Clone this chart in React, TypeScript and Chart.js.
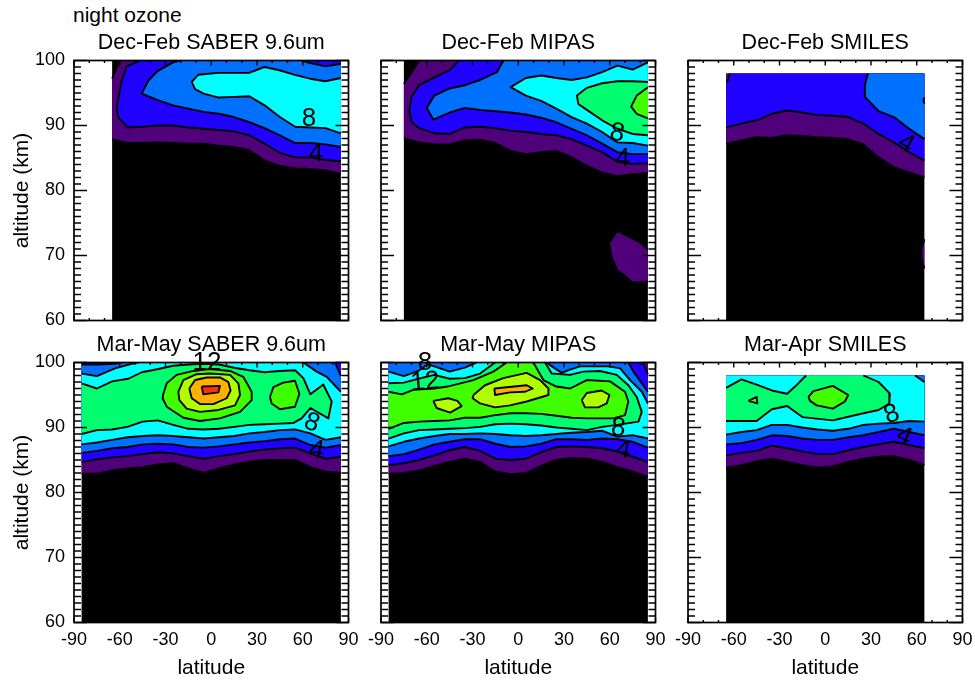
import React, { useEffect, useRef } from "react";
import { Chart, registerables } from "chart.js";

Chart.register(...registerables);

// fill colour for the region above each contour level (ppmv)
const levelColors: Record<number, string> = {
  0: "#000000", 2: "#50007a", 4: "#2000ff", 6: "#0070ff", 8: "#00ffff",
  10: "#00ff70", 12: "#40ff00", 14: "#b0ff00", 16: "#ffb000", 18: "#ff3000",
};

const xTickValues = [-90, -60, -30, 0, 30, 60, 90];
const yTickValues = [60, 70, 80, 90, 100];

// ---- Dec-Feb SABER
const djfSaber0 = [[-65, 60], [85, 60], [85, 100], [-65, 100]];
const djfSaber2 = [[-65, 87.9], [-55, 87.3], [-45, 87.3], [-35, 87.4], [-25, 87.3], [-15, 87.2], [-5, 87.2], [5, 86.9], [15, 86.7], [25, 86.2], [35, 84.6], [45, 83.8], [55, 83.4], [65, 83.3], [75, 83.1], [85, 82.6], [85, 100], [-60, 100], [-65, 97.2]];
const djfSaber4 = [[-46.7, 100], [-55.5, 99.1], [-58.7, 96.9], [-62, 92.8], [-61, 91.3], [-55, 89.7], [-45, 89.8], [-35, 90], [-25, 90], [-15, 89.7], [-5, 89.5], [5, 89.3], [15, 89.1], [25, 88.5], [35, 87.2], [45, 85.8], [55, 85.1], [65, 85.1], [75, 84.7], [85, 84.5], [85, 100]];
const djfSaber6 = [[-20.5, 100], [-25, 99.7], [-35, 98.4], [-41.2, 96.9], [-45.6, 94.9], [-35, 93.9], [-25, 93.1], [-15, 92.6], [-5, 92.1], [5, 91.8], [15, 91.3], [25, 90.5], [35, 89.6], [45, 88.5], [55, 87.3], [65, 87.3], [75, 87.1], [85, 86.7], [85, 99.5], [75, 99.1], [65, 99.6], [59.3, 100]];
const djfSaber8 = [[-8.5, 97.8], [4.7, 98.1], [14.7, 98.1], [24.8, 98.1], [34.8, 99], [44.7, 98.5], [54.7, 97.8], [64.8, 97.2], [74.8, 96.8], [85, 97.3], [85, 88.8], [75, 89.6], [65, 89.7], [55, 89.8], [45, 91.3], [35, 93.1], [25, 94.5], [15, 94.4], [5, 94.3], [-5, 94.9], [-10.6, 95.6], [-12.8, 96.7]];

// ---- Dec-Feb MIPAS
const djfMipas0 = [[-75, 60], [85, 60], [85, 100], [-75, 100]];
const djfMipas2 = [[-75, 88], [-65, 87.4], [-55, 87.1], [-45, 87.1], [-35, 87.7], [-25, 87.8], [-15, 87.3], [-5, 86.1], [5, 85.6], [15, 85.9], [25, 86.1], [35, 85.1], [45, 83.8], [55, 82.8], [65, 82.2], [75, 82.5], [85, 82.7], [85, 100], [-64.8, 100], [-75, 96.4]];
const djfMipas2b = [[65, 73.8], [59.5, 71.9], [61.3, 69.7], [65, 67.7], [70, 66.9], [75, 65.8], [85, 66], [85, 70.9], [80, 72], [75, 72.6]];
const djfMipas4 = [[-39, 100], [-45, 98.5], [-55, 97.4], [-65, 96.2], [-70, 94.4], [-71.4, 92.3], [-70, 90.5], [-65, 89.6], [-55, 88.8], [-45, 88.7], [-35, 89.7], [-25, 89.8], [-15, 89.6], [-5, 89.2], [5, 89], [15, 88.7], [25, 88.5], [35, 87.9], [45, 86.9], [55, 85.9], [65, 84.4], [75, 84.1], [85, 84.2], [85, 100]];
const djfMipas6 = [[-9.8, 100], [-14, 98.2], [-25, 97], [-35, 96.2], [-45, 95.7], [-55, 94.6], [-60, 92.7], [-55.7, 90.9], [-45, 92], [-35, 92.7], [-25, 92.4], [-15, 92.2], [-5, 92], [5, 91.7], [15, 91.2], [25, 90.5], [35, 89.5], [45, 88.5], [55, 87.2], [65, 85.9], [75, 85.6], [85, 85.6], [85, 100]];
const djfMipas8 = [[85, 99.7], [75, 98.6], [65, 99.2], [55, 98.2], [45, 97.4], [35, 97], [25, 97.3], [15, 97.7], [5, 97.3], [-5, 95.9], [5, 94.6], [15, 93.8], [25, 92.6], [35, 91.3], [45, 90.3], [55, 89], [65, 87.4], [75, 87.3], [85, 86.9]];
const djfMipas10 = [[85, 96.7], [75, 96.8], [65, 96.8], [55, 96.5], [45, 95.8], [38.5, 94.6], [39.4, 93.3], [45, 92.4], [55, 90.8], [65, 89.5], [75, 88.7], [85, 88.5]];
const djfMipas12 = [[85, 95.9], [77.7, 94.6], [74, 92.9], [77.7, 91.8], [85, 91.1]];

// ---- Dec-Feb SMILES
const djfSmiles0 = [[-65, 60], [65, 60], [65, 98], [-65, 98]];
const djfSmiles2 = [[-65, 87.2], [-55, 87.7], [-45, 88.2], [-35, 88.1], [-25, 88.5], [-15, 88.4], [-5, 88.2], [5, 88.1], [15, 87.9], [25, 87.1], [35, 85.1], [45, 83.6], [55, 82.8], [65, 82], [65, 98], [-65, 98]];
const djfSmiles2b = [[65, 72.5], [63, 71], [63, 69.5], [65, 68]];
const djfSmiles4 = [[-65, 89.7], [-55, 90.3], [-45, 90.8], [-35, 91.8], [-25, 92.3], [-15, 92], [-5, 91.6], [5, 91.5], [15, 91.3], [25, 90.3], [35, 88.7], [45, 87.4], [55, 85.9], [65, 84.6], [65, 98], [-62.5, 98], [-64, 96.8], [-65, 96.7]];
const djfSmiles6 = [[28, 98], [26, 96.2], [26, 94.4], [35, 92.2], [45, 91.3], [55, 89.5], [65, 87.9], [65, 98]];
const djfSmiles8 = [[65, 94.3], [64.4, 93.9], [65, 93.4]];

// ---- Mar-May SABER
const mamSaber0 = [[-85, 60], [85, 60], [85, 100], [-85, 100]];
const mamSaber2 = [[-85, 82.9], [-75, 82.9], [-65, 83.4], [-55, 83.7], [-45, 83.9], [-35, 84.3], [-25, 84.5], [-15, 83.7], [-5, 83], [5, 83.7], [15, 84.3], [25, 84.7], [35, 85], [45, 85], [55, 85], [65, 83.9], [75, 83.2], [85, 83], [85, 100], [-85, 100]];
const mamSaber4 = [[-85, 84.7], [-75, 85.1], [-65, 85.4], [-55, 85.6], [-45, 85.9], [-35, 86.2], [-25, 86], [-15, 85.6], [-5, 85.2], [5, 85.6], [15, 85.9], [25, 86.3], [35, 86.6], [45, 86.8], [55, 86.9], [65, 86], [75, 85.2], [85, 85.5], [85, 100], [-85, 100]];
const mamSaber6 = [[-85, 86.1], [-75, 86.4], [-65, 86.8], [-55, 87], [-45, 87.4], [-35, 87.5], [-25, 87.4], [-15, 87], [-5, 86.9], [5, 87.1], [15, 87.4], [25, 87.7], [35, 87.9], [45, 88.2], [55, 88.3], [65, 87.3], [75, 86.9], [85, 87.3], [85, 97.9], [81.2, 100], [-59.8, 100], [-63, 99.8], [-74, 99.7], [-85, 99.7]];
const mamSaber8 = [[-85, 87.4], [-75, 87.7], [-65, 88.1], [-55, 88.5], [-45, 88.7], [-35, 88.8], [-25, 88.7], [-15, 88.5], [-5, 88.3], [5, 88.5], [15, 88.7], [25, 89.1], [35, 89.3], [45, 89.6], [55, 89.7], [65, 89.1], [75, 88.1], [85, 88.5], [85, 95.5], [75.7, 97.8], [69.1, 98.6], [60.4, 100], [-47.8, 100], [-52.2, 99.8], [-63.1, 99.1], [-75, 97.9], [-85, 98.3]];
const mamSaber10 = [[-85, 89], [-75, 89.6], [-65, 89.7], [-55, 90.1], [-45, 90.9], [-35, 91.1], [-25, 90.4], [-15, 89.8], [-5, 89.7], [5, 89.8], [15, 90.1], [25, 90.4], [35, 90.5], [45, 90.6], [54, 90.7], [59.3, 91.4], [65, 93], [76.8, 91.4], [79, 94], [73.5, 96.6], [65, 95.1], [60.4, 97.6], [55, 98.8], [45, 98.7], [35, 98.5], [25, 98.8], [15, 99.2], [5, 99.7], [-5, 99.8], [-15, 99.7], [-25, 99.5], [-34.7, 99], [-45.6, 98.5], [-54.4, 97.5], [-65, 97.1], [-75, 96], [-85, 96.8]];
const mamSaber12 = [[-31.4, 95.2], [-29.2, 96.8], [-22.7, 98.1], [-11.8, 98.7], [-0.8, 99], [12.3, 98.7], [21, 97.8], [26.5, 95.5], [26.5, 94.2], [18.9, 92.4], [5.7, 91.4], [-7.4, 91], [-18.3, 91.5], [-29.2, 93.2], [-31.9, 94.5]];
const mamSaber12b = [[38.5, 94.7], [40.7, 96.2], [47.3, 96.9], [54.9, 97.2], [57.8, 95.2], [54.9, 93.2], [45.1, 92.8], [39.6, 93.7]];
const mamSaber14 = [[-21.6, 95.5], [-18.3, 97.3], [-9.6, 98.2], [-0.8, 98.3], [12.3, 98.1], [17.8, 96.8], [18.9, 95], [15.6, 93.4], [4.7, 92.7], [-7.4, 92.4], [-16.1, 92.9], [-20.9, 94.2]];
const mamSaber16 = [[-14.4, 96], [-10.6, 97.3], [-3, 97.7], [5.7, 97.7], [11.2, 97], [12.7, 95.7], [10.1, 94.5], [1.4, 93.6], [-7.4, 93.6], [-12.8, 94.5]];
const mamSaber18 = [[-6.3, 96.3], [5.7, 96.4], [4.7, 95.4], [-5.2, 95.1]];

// ---- Mar-May MIPAS
const mamMipas0 = [[-85, 60], [85, 60], [85, 100], [-85, 100]];
const mamMipas2 = [[-85, 82.9], [-75, 83], [-65, 83.4], [-55, 84.1], [-45, 84.7], [-35, 85.2], [-25, 84.7], [-15, 83.2], [-5, 82.8], [5, 83], [15, 84.1], [25, 85], [35, 85.3], [45, 85.2], [55, 84.7], [65, 83.9], [75, 83.2], [85, 82.4], [85, 100], [-85, 100]];
const mamMipas4 = [[-85, 84.2], [-75, 84.5], [-65, 85], [-55, 85.7], [-45, 86.5], [-35, 87], [-25, 86.4], [-15, 85.2], [-5, 85], [5, 85.2], [15, 86.2], [25, 87], [35, 87.1], [45, 87], [55, 86.8], [65, 86.3], [75, 85.5], [85, 84.7], [85, 98.2], [81.6, 100], [-85, 100]];
const mamMipas6 = [[-85, 85.6], [-75, 85.9], [-65, 86.6], [-55, 87.4], [-45, 87.8], [-35, 88.2], [-25, 88.2], [-15, 87.5], [-5, 87], [5, 87.1], [15, 87.5], [25, 88.2], [35, 88.2], [45, 88.1], [55, 88.3], [65, 88.2], [75, 87.8], [85, 86.9], [85, 95.5], [75.5, 98.6], [72.2, 100], [-85, 100]];
const mamMipas8 = [[-85, 87.1], [-75, 87.8], [-65, 88.3], [-55, 88.7], [-45, 89], [-35, 89], [-25, 89.1], [-15, 89], [-5, 88.8], [5, 88.7], [15, 88.8], [25, 89], [35, 89.2], [45, 89.3], [55, 89.5], [65, 88.6], [75, 88.8], [85, 88.3], [85, 93.7], [81, 95.5], [73.3, 97.3], [66.8, 99.1], [59.1, 99.4], [40.5, 99.4], [34, 98.9], [28.5, 98.4], [20.8, 99.6], [18.7, 100], [-27.2, 100], [-35, 99.2], [-45, 98.6], [-55, 99.4], [-59.6, 99.7], [-65.5, 98.7], [-75, 97.9], [-85, 98.6]];
const mamMipas10 = [[-85, 88.3], [-75, 89.1], [-65, 89.6], [-55, 89.7], [-45, 89.8], [-35, 89.9], [-25, 90.1], [-15, 90.5], [-5, 90.6], [5, 90.5], [15, 90.3], [25, 90], [35, 89.8], [45, 89.6], [55, 90.1], [65, 90.4], [78.8, 90.9], [81, 92.4], [77.7, 94.7], [72.2, 96.5], [64.6, 98.1], [53.6, 98.7], [42.7, 98.6], [34, 98.1], [21.9, 98.3], [17.6, 100], [-15.2, 100], [-25, 98.3], [-35, 97.6], [-45, 97.5], [-55, 98.1], [-65.5, 97.5], [-75, 96.9], [-85, 96.8]];
const mamMipas12 = [[-85, 89.8], [-75, 90.7], [-65, 90.9], [-55, 91], [-45, 91.1], [-35, 91.5], [-25, 91.5], [-15, 91.9], [-5, 92.2], [5, 92.2], [15, 92.1], [25, 91.8], [35, 91.5], [45, 91.4], [62.4, 91.4], [70, 91.9], [72.2, 94], [70, 95.5], [60.2, 97.1], [44.9, 97.3], [34, 96], [25, 96.3], [16.5, 97.3], [9.9, 100], [-7.6, 100], [-16.3, 98.6], [-29.4, 97.3], [-46.5, 96.3], [-55, 96], [-68.8, 95.8], [-76.4, 95.1], [-85, 95.5]];
const mamMipas14 = [[-29.4, 95], [-21.8, 96.5], [-9.8, 97.6], [5.5, 98.4], [14.3, 97.3], [19.8, 96], [19.8, 95], [5.5, 94], [-5.4, 93.4], [-15.2, 93.1], [-25, 93.7], [-29.9, 94.5]];
const mamMipas14b = [[-55.7, 94.1], [-45.8, 94.5], [-39.9, 94.1], [-37.1, 93.3], [-44.7, 92.3], [-53.5, 93]];
const mamMipas14c = [[41.6, 94.2], [44.9, 95.3], [54.7, 95.7], [59.8, 95], [58, 93.7], [52.5, 93.1], [43.8, 93.1]];
const mamMipas16 = [[-15.7, 96], [5.5, 96.5], [9.5, 96], [4.5, 95.5], [-5.4, 95.4], [-15.2, 95]];

// ---- Mar-Apr SMILES
const maSmiles0 = [[-65, 60], [65, 60], [65, 98], [-65, 98]];
const maSmiles2 = [[-65, 83.8], [-55, 84.2], [-45, 84.8], [-35, 85.2], [-25, 84.7], [-15, 84.2], [-5, 83.8], [5, 84], [15, 84.7], [25, 85.2], [35, 85.5], [45, 85.6], [55, 85], [65, 84.2], [65, 98], [-65, 98]];
const maSmiles4 = [[-65, 85.7], [-55, 86.1], [-45, 86.4], [-35, 87.2], [-25, 86.8], [-15, 86.3], [-5, 85.9], [5, 85.9], [15, 86.5], [25, 87], [35, 87.4], [45, 87.8], [55, 87.3], [65, 86.8], [65, 98], [-65, 98]];
const maSmiles6 = [[-65, 87.4], [-55, 87.6], [-45, 88.1], [-35, 88.8], [-25, 88.7], [-15, 88.3], [-5, 88.1], [5, 88.1], [15, 88.5], [25, 88.8], [35, 89.3], [45, 89.8], [55, 89.3], [65, 88.8], [65, 98], [-65, 98]];
const maSmiles8 = [[-65, 88.9], [-55, 89.3], [-45, 89.6], [-35, 90.4], [-25, 90.4], [-15, 90], [-5, 89.7], [5, 89.5], [15, 89.8], [25, 90.4], [35, 90.6], [45, 90.7], [55, 91], [65, 90.9], [65, 97], [58.9, 98], [-65, 98]];
const maSmiles10 = [[-65, 96.1], [-55, 97.4], [-45, 96.6], [-35, 95.7], [-25, 95.2], [-19.8, 96.3], [-12.6, 98], [25, 98], [35, 97], [42.4, 95.2], [42, 93.7], [35, 92.7], [25, 92.2], [5, 91.1], [-15, 91.6], [-25, 93.3], [-35, 92.8], [-45, 91], [-55, 91], [-65, 91]];
const maSmiles12 = [[-11, 94.7], [-7.8, 95.6], [5, 96.4], [15.1, 95], [12.9, 94], [5, 92.9], [-5.6, 93.4], [-10, 94.1]];
const maSmiles12b = [[-50.4, 94.1], [-45, 94.7], [-44.5, 93.7]];

// contour labels: text, latitude, altitude, rotation in degrees
const djfSaberLabels = [["8", 64.1, 91.1, 0], ["4", 68.7, 85.7, 0]];
const djfMipasLabels = [["8", 64.8, 88.8, 10], ["4", 68.5, 84.9, 0]];
const djfSmilesLabels = [["4", 53, 87.2, 30]];
const mamSaberLabels = [["12", -2.8, 100, 0], ["8", 65.9, 90.7, 20], ["4", 69.1, 86.5, 10]];
const mamMipasLabels = [["8", -61.1, 100, 0], ["12", -61.1, 97, -5], ["8", 65.6, 89.9, 5], ["4", 68.9, 86.5, 10]];
const maSmilesLabels = [["8", 43.6, 92, -20], ["4", 51.5, 88.6, 25]];

const FONT = "'Liberation Sans', Arial, Helvetica, sans-serif";

const panels = [
  { title: "Dec-Feb SABER 9.6um", col: 0, row: 0, latMin: -65, latMax: 85, altTop: 100, labels: djfSaberLabels,
    regions: [[0, djfSaber0], [2, djfSaber2], [4, djfSaber4], [6, djfSaber6], [8, djfSaber8]] },
  { title: "Dec-Feb MIPAS", col: 1, row: 0, latMin: -75, latMax: 85, altTop: 100, labels: djfMipasLabels,
    regions: [[0, djfMipas0], [2, djfMipas2], [2, djfMipas2b], [4, djfMipas4], [6, djfMipas6], [8, djfMipas8], [10, djfMipas10], [12, djfMipas12]] },
  { title: "Dec-Feb SMILES", col: 2, row: 0, latMin: -65, latMax: 65, altTop: 98, labels: djfSmilesLabels,
    regions: [[0, djfSmiles0], [2, djfSmiles2], [2, djfSmiles2b], [4, djfSmiles4], [6, djfSmiles6], [8, djfSmiles8]] },
  { title: "Mar-May SABER 9.6um", col: 0, row: 1, latMin: -85, latMax: 85, altTop: 100, labels: mamSaberLabels,
    regions: [[0, mamSaber0], [2, mamSaber2], [4, mamSaber4], [6, mamSaber6], [8, mamSaber8], [10, mamSaber10], [12, mamSaber12], [12, mamSaber12b], [14, mamSaber14], [16, mamSaber16], [18, mamSaber18]] },
  { title: "Mar-May MIPAS", col: 1, row: 1, latMin: -85, latMax: 85, altTop: 100, labels: mamMipasLabels,
    regions: [[0, mamMipas0], [2, mamMipas2], [4, mamMipas4], [6, mamMipas6], [8, mamMipas8], [10, mamMipas10], [12, mamMipas12], [14, mamMipas14], [14, mamMipas14b], [14, mamMipas14c], [16, mamMipas16]] },
  { title: "Mar-Apr SMILES", col: 2, row: 1, latMin: -65, latMax: 65, altTop: 98, labels: maSmilesLabels,
    regions: [[0, maSmiles0], [2, maSmiles2], [4, maSmiles4], [6, maSmiles6], [8, maSmiles8], [10, maSmiles10], [12, maSmiles12], [12, maSmiles12b]] },
];

// split a region outline into the open runs that are real contours
// (edges lying on the border of the data domain get no line)
function contourRuns(poly: number[][], p: any): number[][][] {
  const n = poly.length;
  const onFrame = (i: number) => {
    const a = poly[i];
    const b = poly[(i + 1) % n];
    return (a[0] === p.latMin && b[0] === p.latMin) ||
      (a[0] === p.latMax && b[0] === p.latMax) ||
      (a[1] === p.altTop && b[1] === p.altTop) ||
      (a[1] === 60 && b[1] === 60);
  };
  let start = -1;
  for (let i = 0; i < n; i++) if (onFrame(i)) { start = i; break; }
  if (start < 0) return [[...poly, poly[0]]];
  const runs: number[][][] = [];
  let cur: number[][] = [];
  for (let k = 1; k <= n; k++) {
    const i = (start + k) % n;
    if (!onFrame(i)) {
      if (!cur.length) cur.push(poly[i]);
      cur.push(poly[(i + 1) % n]);
    } else if (cur.length) {
      runs.push(cur);
      cur = [];
    }
  }
  if (cur.length) runs.push(cur);
  return runs;
}

const frameAndLabels = {
  id: "frameAndLabels",
  afterDatasetsDraw(chart: any, _args: any, opts: any) {
    const { ctx, chartArea: a, scales } = chart;
    const xs = scales.x;
    const ys = scales.y;
    ctx.save();
    ctx.strokeStyle = "#000";
    ctx.lineCap = "butt";
    ctx.lineWidth = 1.7;
    for (let v = 60; v <= 100; v += 1) {
      const y = ys.getPixelForValue(v);
      const len = v % 10 === 0 ? 13 : 7;
      ctx.beginPath();
      ctx.moveTo(a.left, y); ctx.lineTo(a.left + len, y);
      ctx.moveTo(a.right, y); ctx.lineTo(a.right - len, y);
      ctx.stroke();
    }
    ctx.lineWidth = 1.4;
    for (let v = -90; v <= 90; v += 10) {
      const x = xs.getPixelForValue(v);
      const len = v % 30 === 0 ? 5 : 2.5;
      ctx.beginPath();
      ctx.moveTo(x, a.top); ctx.lineTo(x, a.top + len);
      ctx.moveTo(x, a.bottom); ctx.lineTo(x, a.bottom - len);
      ctx.stroke();
    }
    ctx.lineWidth = 1.7;
    ctx.strokeRect(a.left, a.top, a.right - a.left, a.bottom - a.top);

    ctx.fillStyle = "#000";
    ctx.font = `26px ${FONT}`;
    ctx.textAlign = "center";
    ctx.textBaseline = "middle";
    for (const [text, lat, alt, rot] of opts.labels) {
      ctx.save();
      ctx.translate(xs.getPixelForValue(lat), ys.getPixelForValue(alt));
      ctx.rotate((rot * Math.PI) / 180);
      ctx.fillText(text, 0, 0);
      ctx.restore();
    }
    ctx.restore();
  },
};

function buildChart(canvas: HTMLCanvasElement, p: any) {
  const fills = p.regions.map(([level, poly]: any) => ({
    data: poly.map(([x, y]: number[]) => ({ x, y })),
    showLine: true, fill: "shape", backgroundColor: levelColors[level],
    borderWidth: 0, pointRadius: 0, tension: 0,
  }));
  const lines = p.regions.flatMap(([, poly]: any) =>
    contourRuns(poly, p).map((run) => ({
      data: run.map(([x, y]) => ({ x, y })),
      showLine: true, fill: false, borderColor: "#000", borderWidth: 1.9,
      pointRadius: 0, tension: 0, borderJoinStyle: "round",
    })));
  const datasets = [...fills, ...lines].map((d, i, all) => ({ ...d, order: all.length - i }));
  const showY = p.col === 0;
  const showX = p.row === 1;
  return new Chart(canvas, {
    type: "scatter",
    data: { datasets },
    plugins: [frameAndLabels],
    options: {
      animation: false,
      responsive: false,
      events: [],
      layout: {
        padding: { left: showY ? 7.5 : 70, right: 12.5, top: 28, bottom: showX ? 1.5 : 57.5 },
      },
      plugins: {
        legend: { display: false },
        tooltip: { enabled: false },
        title: {
          display: true, text: p.title, fullSize: false, color: "#000",
          font: { family: FONT, size: 21.5, weight: "normal", lineHeight: 1 },
          padding: { top: 0, bottom: 7 },
        },
        frameAndLabels: { labels: p.labels },
      },
      scales: {
        x: {
          type: "linear", min: -90, max: 90,
          afterFit: (s: any) => { s.height = showX ? 56 : 0; s.paddingLeft = 0; s.paddingRight = 0; },
          afterBuildTicks: (s: any) => { s.ticks = xTickValues.map((value) => ({ value })); },
          grid: { display: false, drawTicks: false },
          border: { display: false },
          ticks: {
            display: showX, color: "#000", padding: 8.5, autoSkip: false, maxRotation: 0,
            font: { family: FONT, size: 18, lineHeight: 1 },
          },
          title: {
            display: showX, text: "latitude", color: "#000", padding: 0,
            font: { family: FONT, size: 21, lineHeight: 1 },
          },
        },
        y: {
          type: "linear", min: 60, max: 100,
          afterFit: (s: any) => { s.width = showY ? 62.5 : 0; s.paddingTop = 0; s.paddingBottom = 0; },
          afterBuildTicks: (s: any) => { s.ticks = yTickValues.map((value) => ({ value })); },
          grid: { display: false, drawTicks: false },
          border: { display: false },
          ticks: {
            display: showY, color: "#000", padding: 9, autoSkip: false,
            font: { family: FONT, size: 18, lineHeight: 1 },
          },
          title: {
            display: showY, text: "altitude (km)", color: "#000", padding: 0,
            font: { family: FONT, size: 21, lineHeight: 1 },
          },
        },
      },
    } as any,
  } as any);
}

const colLeft = [4, 311, 618];
const rowTop = [4, 306];

export default function App() {
  const refs = useRef<(HTMLCanvasElement | null)[]>([]);
  useEffect(() => {
    const charts = panels.map((p, i) => buildChart(refs.current[i] as HTMLCanvasElement, p));
    return () => charts.forEach((c) => c.destroy());
  }, []);
  return (
    <div style={{ position: "absolute", left: 0, top: 0, width: 975, height: 680, overflow: "hidden", background: "#fff" }}>
      <div style={{ position: "absolute", left: 73, top: 3, font: `21px/24px ${FONT}`, color: "#000" }}>night ozone</div>
      {panels.map((p, i) => (
        <canvas
          key={p.title}
          ref={(el) => { refs.current[i] = el; }}
          width={357}
          height={374}
          style={{ position: "absolute", left: colLeft[p.col], top: rowTop[p.row], width: 357, height: 374 }}
        />
      ))}
    </div>
  );
}
